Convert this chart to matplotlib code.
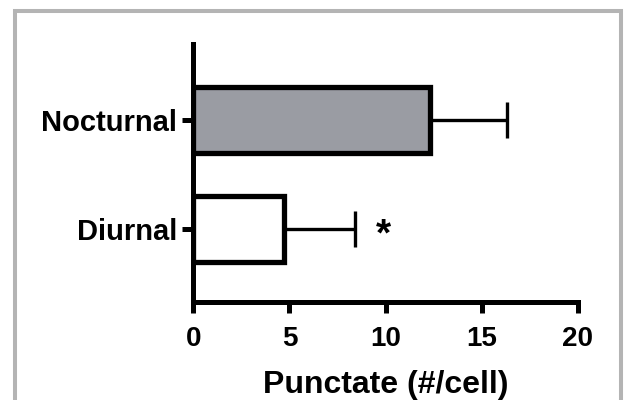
import matplotlib
matplotlib.use("Agg")
import matplotlib.pyplot as plt
from matplotlib.patches import Rectangle

plt.rcParams['font.family'] = ['Liberation Sans', 'DejaVu Sans']
plt.rcParams['font.weight'] = 'bold'

categories = ["Diurnal", "Nocturnal"]
means = [4.7, 12.3]
errors = [3.7, 4.0]
fill_colors = ["#ffffff", "#9a9ca3"]
x_ticks = [0, 5, 10, 15, 20]

W, H = 628, 400
fig = plt.figure(figsize=(W / 100, H / 100), dpi=100)
ax = fig.add_axes([193.3 / W, 1 - 302 / H, 384.4 / W, (302 - 44) / H])

ypos = list(range(len(categories)))
ax.barh(ypos, means, height=0.61, color=fill_colors, edgecolor="black",
        linewidth=3.8, zorder=2)
ax.errorbar(means, ypos, xerr=[[0] * len(errors), errors], fmt="none",
            ecolor="black", elinewidth=2.4, capsize=13, capthick=2.4, zorder=3)

# significance marker next to the diurnal bar
ax.text(9.9, ypos[0] - 0.06, "*", fontsize=28,
        fontweight="bold", ha="center", va="center")

ax.set_xlim(0, 20)
ax.set_ylim(-0.667, 1.697)
ax.set_xticks(x_ticks)
ax.set_yticks(ypos)
ax.set_yticklabels(categories)
ax.tick_params(axis="both", length=8, width=3.6)
ax.tick_params(axis="x", labelsize=20, pad=9.5)
ax.tick_params(axis="y", labelsize=21, pad=3.5)
ax.set_xlabel("Punctate (#/cell)", fontsize=23, fontweight="bold", labelpad=13)

for side in ("top", "right"):
    ax.spines[side].set_visible(False)
for side in ("left", "bottom"):
    ax.spines[side].set_linewidth(3.6)
    ax.spines[side].set_capstyle("projecting")

# grey frame around the panel
fig.patches.append(Rectangle((15 / W, -0.05), (621 - 15) / W, 1 - 11 / H + 0.05,
                             transform=fig.transFigure, fill=False,
                             edgecolor="#b4b4b4", linewidth=2.9))

fig.savefig("out.png", dpi=100)
